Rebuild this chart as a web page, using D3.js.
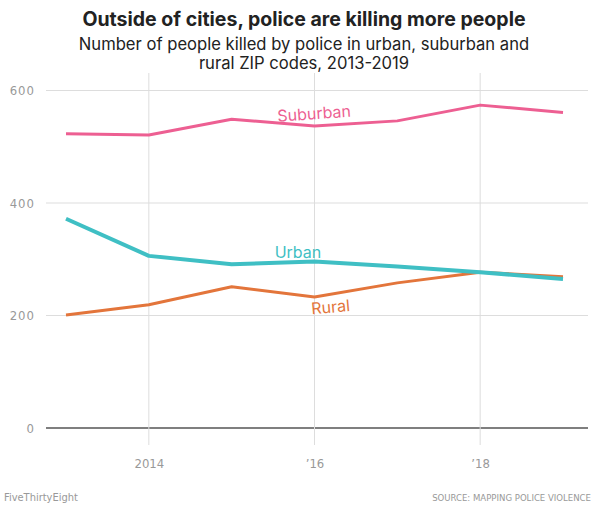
<!DOCTYPE html>
<html>
<head>
  <script src="https://d3js.org/d3.v7.min.js"></script>
  <title>Police killings by ZIP code type</title>
  <style>
    body { margin: 0; background: #fff; }
    text { font-family: "Inter", "Roboto", sans-serif; }
    .tick text { font-family: "Liberation Sans Narrow", "DejaVu Sans Condensed", sans-serif; }
  </style>
</head>
<body>
  <div id="chart"></div>
  <script>
    // data
    const years = [2013, 2014, 2015, 2016, 2017, 2018, 2019];
    const suburban = [523, 521, 549, 537, 546, 574, 561];
    const urban = [372, 306, 291, 296, 287, 277, 265];
    const rural = [201, 219, 251, 233, 258, 277, 269];
    const yTicks = [0, 200, 400, 600];
    const xTicks = [2014, 2016, 2018];
    const xTickLabels = ["2014", "\u201916", "\u201918"];

    const W = 595, H = 507;

    const svg = d3.select("#chart")
      .append("svg")
        .attr("width", W)
        .attr("height", H);

    const x = d3.scaleLinear().domain([2013, 2019]).range([66, 563]);
    const y = d3.scaleLinear().domain([0, 600]).range([428, 90.5]);

    // horizontal gridlines
    svg.append("g")
      .selectAll("line")
      .data(yTicks)
      .join("line")
        .attr("x1", 46)
        .attr("x2", 588)
        .attr("y1", d => y(d))
        .attr("y2", d => y(d))
        .attr("stroke", d => d === 0 ? "#555" : "#ddd")
        .attr("stroke-width", d => d === 0 ? 1.5 : 1);

    // vertical gridlines
    svg.append("g")
      .selectAll("line")
      .data(xTicks)
      .join("line")
        .attr("x1", d => x(d))
        .attr("x2", d => x(d))
        .attr("y1", 73)
        .attr("y2", 445)
        .attr("stroke", "#ddd");

    // y axis labels
    const yAxis = svg.append("g")
      .attr("transform", "translate(35,0)")
      .call(d3.axisLeft(y).tickValues(yTicks).tickSize(0).tickPadding(0));
    yAxis.select(".domain").remove();
    yAxis.selectAll("text")
      .attr("fill", "#999")
      .style("font-size", "13px")
      .style("letter-spacing", "1px");

    // x axis labels
    const xAxis = svg.append("g")
      .attr("transform", "translate(0,459)")
      .call(d3.axisBottom(x).tickValues(xTicks).tickSize(0).tickPadding(0)
        .tickFormat((d, i) => xTickLabels[i]));
    xAxis.select(".domain").remove();
    xAxis.selectAll("text")
      .attr("fill", "#999")
      .style("font-size", "13px");

    const line = d3.line()
      .x((d, i) => x(years[i]))
      .y(d => y(d));

    const series = [
      { name: "Rural", values: rural, color: "#e3753b", width: 3 },
      { name: "Suburban", values: suburban, color: "#ed5f92", width: 3 },
      { name: "Urban", values: urban, color: "#3fbfc4", width: 4 }
    ];

    svg.append("g")
      .selectAll("path")
      .data(series)
      .join("path")
        .attr("d", d => line(d.values))
        .attr("fill", "none")
        .attr("stroke", d => d.color)
        .attr("stroke-width", d => d.width)
        .attr("stroke-linejoin", "round");

    // inline series labels
    const labels = [
      { text: "Suburban", color: "#ed5f92", xv: 2016, yv: 549, rot: -4 },
      { text: "Urban", color: "#3fbfc4", xv: 2015.8, yv: 303, rot: 0 },
      { text: "Rural", color: "#e3753b", xv: 2016.2, yv: 205, rot: -5 }
    ];
    svg.append("g")
      .selectAll("text")
      .data(labels)
      .join("text")
        .attr("transform", d => `translate(${x(d.xv)},${y(d.yv)}) rotate(${d.rot})`)
        .attr("text-anchor", "middle")
        .attr("fill", d => d.color)
        .style("font-size", "16px")
        .text(d => d.text);

    // title and subtitle
    svg.append("text")
      .attr("x", 304)
      .attr("y", 26)
      .attr("text-anchor", "middle")
      .style("font-size", "19.5px")
      .style("font-weight", "700")
      .attr("fill", "#222")
      .text("Outside of cities, police are killing more people");

    svg.append("text")
      .attr("x", 304)
      .attr("y", 50)
      .attr("text-anchor", "middle")
      .style("font-size", "16.6px")
      .attr("fill", "#222")
      .text("Number of people killed by police in urban, suburban and");

    svg.append("text")
      .attr("x", 304)
      .attr("y", 69)
      .attr("text-anchor", "middle")
      .style("font-size", "16.6px")
      .attr("fill", "#222")
      .text("rural ZIP codes, 2013-2019");

    // footer
    svg.append("text")
      .attr("x", 4)
      .attr("y", 501)
      .style("font-family", "'Liberation Sans Narrow', 'DejaVu Sans Condensed', sans-serif")
      .style("font-size", "11px")
      .attr("fill", "#999")
      .text("FiveThirtyEight");

    svg.append("text")
      .attr("x", 591)
      .attr("y", 501)
      .attr("text-anchor", "end")
      .style("font-family", "'Liberation Sans Narrow', 'DejaVu Sans Condensed', sans-serif")
      .style("font-size", "9.5px")
      .attr("fill", "#999")
      .text("SOURCE: MAPPING POLICE VIOLENCE");
  </script>
</body>
</html>
